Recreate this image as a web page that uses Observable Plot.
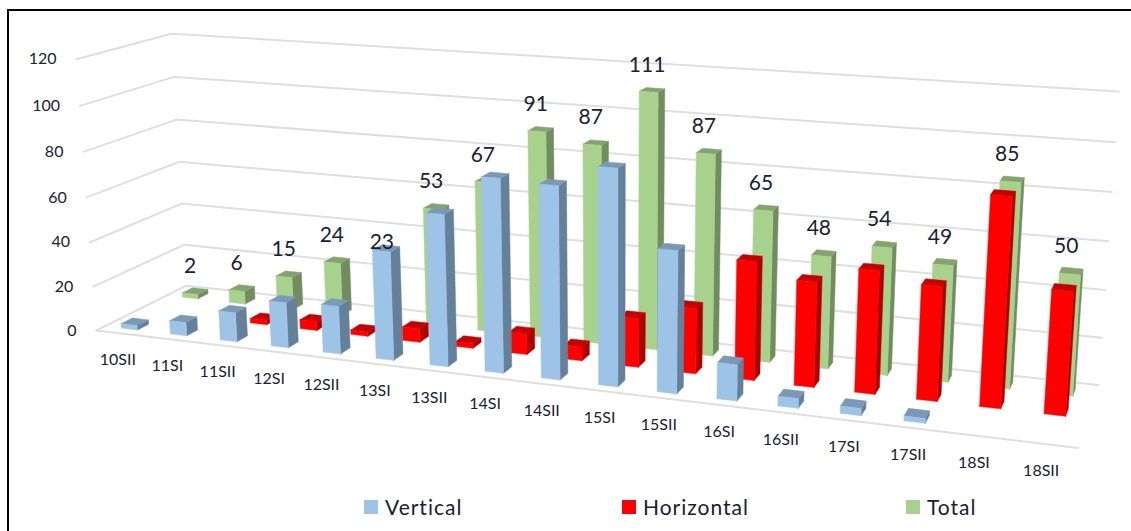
<!DOCTYPE html>
<html>
<head>
<meta charset="utf-8">
<script src="https://cdn.jsdelivr.net/npm/d3@7"></script>
<script src="https://cdn.jsdelivr.net/npm/@observablehq/plot@0.6"></script>
<style>
  html, body { margin: 0; padding: 0; background: #fff; }
  #frame { position: relative; width: 1131px; height: 531px; overflow: hidden; }
  #frame svg { position: absolute; left: 0; top: 0; }
  #border { position: absolute; left: 7px; top: 9px; width: 1160px; height: 560px; border: 2px solid #000; box-sizing: border-box; }
  .key { position: absolute; top: 495px; font: 21px Lato, sans-serif; letter-spacing: 1px; color: #1a2035; line-height: 24px; white-space: nowrap; }
  .key i { position: absolute; left: -21px; top: 5px; width: 14px; height: 14px; }
</style>
</head>
<body>
<div id="frame"><div id="border"></div></div>
<script>
const categories = ["10SII","11SI","11SII","12SI","12SII","13SI","13SII","14SI","14SII","15SI","15SII","16SI","16SII","17SI","17SII","18SI","18SII"];
const vertical   = [2, 6, 13, 20, 21, 47, 65, 82, 81, 90, 59, 15, 4, 3, 2, 0, 0];
const horizontal = [0, 0, 2, 4, 2, 6, 2, 9, 6, 21, 28, 50, 44, 51, 47, 85, 50];
const total      = [2, 6, 15, 24, 23, 53, 67, 91, 87, 111, 87, 65, 48, 54, 49, 85, 50];
const ticks = [0, 20, 40, 60, 80, 100, 120];

const palette = {
  Vertical:   {front: "#9dc3e6", side: "#64809b", top: "#7b98b6"},
  Horizontal: {front: "#ff0000", side: "#b00000", top: "#c40000"},
  Total:      {front: "#a9d18e", side: "#718d5f", top: "#85a371"}
};
const legendLeft = {Vertical: 385, Horizontal: 643, Total: 927};

const width = 1131, height = 531, valueMax = 120;

// Pin-hole camera fitted to the corners of the plot box: (category, depth, value) in 0..1 -> page position.
const boxCorners = [
  [0, 0, 0,   97, 330], [1, 0, 0, 1078, 447],
  [0, 1, 0,  185, 285], [1, 1, 0, 1098, 385],
  [0, 0, 1,   75,  59], [0, 1, 1,  172,  33], [1, 1, 1, 1118, 91]
];
function fitCamera(pts) {
  const rows = [], rhs = [];
  for (const [u, v, w, X, Y] of pts) {
    const x = X / 1000, y = Y / 1000;
    rows.push([u, v, w, 1, 0, 0, 0, 0, -x * u, -x * v, -x * w]); rhs.push(x);
    rows.push([0, 0, 0, 0, u, v, w, 1, -y * u, -y * v, -y * w]); rhs.push(y);
  }
  const n = 11;
  const A = d3.range(n).map(i => d3.range(n + 1).map(j =>
    d3.sum(rows, (r, k) => r[i] * (j < n ? r[j] : rhs[k]))));
  for (let i = 0; i < n; i++) {
    let p = i;
    for (let r = i + 1; r < n; r++) if (Math.abs(A[r][i]) > Math.abs(A[p][i])) p = r;
    [A[i], A[p]] = [A[p], A[i]];
    for (let r = 0; r < n; r++) if (r !== i) {
      const f = A[r][i] / A[i][i];
      for (let c = i; c <= n; c++) A[r][c] -= f * A[i][c];
    }
  }
  return A.map((r, i) => r[n] / r[i]);
}
const cam = fitCamera(boxCorners);
function project(u, v, value) {
  const w = value / valueMax;
  const d = cam[8] * u + cam[9] * v + cam[10] * w + 1;
  return {
    x: 1000 * (cam[0] * u + cam[1] * v + cam[2] * w + cam[3]) / d,
    y: 1000 * (cam[4] * u + cam[5] * v + cam[6] * w + cam[7]) / d
  };
}

// Depth slots of the three series and the bar footprint within a category slot.
const depthSlot = {Vertical: [0.09, 0.21], Horizontal: [0.44, 0.56], Total: [0.77, 0.89]};
const barShare = 0.33;
const slotLeft = i => (i + 0.5 - barShare / 2) / categories.length;
const slotRight = i => (i + 0.5 + barShare / 2) / categories.length;

const polygons = [];
let polyId = 0;
function addPolygon(corners, color) {
  const id = polyId++;
  for (const c of [...corners, corners[0]]) polygons.push({...project(...c), id, color});
}
// Far series first so nearer boxes paint over them.
for (const [name, values] of [["Total", total], ["Horizontal", horizontal], ["Vertical", vertical]]) {
  const [v0, v1] = depthSlot[name];
  const col = palette[name];
  values.forEach((value, i) => {
    if (value === 0) return;
    const u0 = slotLeft(i), u1 = slotRight(i);
    addPolygon([[u1, v0, 0], [u1, v1, 0], [u1, v1, value], [u1, v0, value]], col.side);
    addPolygon([[u0, v0, value], [u1, v0, value], [u1, v1, value], [u0, v1, value]], col.top);
    addPolygon([[u0, v0, 0], [u1, v0, 0], [u1, v0, value], [u0, v0, value]], col.front);
  });
}

// Grid: one bent line per tick along the side wall and the back wall, plus the front floor edge.
const grid = ticks.flatMap(t => [[0, 0], [0, 1], [1, 1]].map(([u, v]) => ({...project(u, v, t), t})));
const frontEdge = [project(0, 0, 0), project(1, 0, 0)];

const tickLabels = ticks.map(t => ({...project(0, 0, t), t}));
const categoryLabels = categories.map((c, i) => ({...project((i + 0.5) / categories.length, 0, 0), c}));
const [tv0, tv1] = depthSlot.Total;
const totalLabels = total.map((t, i) => ({...project((i + 0.5) / categories.length, (tv0 + tv1) / 2, t), t}));

const chart = Plot.plot({
  width, height,
  margin: 0,
  x: {domain: [0, width], range: [0, width], axis: null},
  y: {domain: [0, height], range: [0, height], axis: null},
  marks: [
    Plot.line(grid, {x: "x", y: "y", z: "t", stroke: "#dedede", strokeWidth: 2}),
    Plot.line(frontEdge, {x: "x", y: "y", stroke: "#dedede", strokeWidth: 2}),
    Plot.line(polygons, {x: "x", y: "y", z: "id", fill: "color", stroke: "color", strokeWidth: 0.5}),
    Plot.text(tickLabels, {x: "x", y: "y", text: "t", dx: -20, textAnchor: "end", fontSize: 16, fill: "#1a2035", fontFamily: "Lato"}),
    Plot.text(categoryLabels, {x: "x", y: "y", text: "c", dx: -3, dy: 27, fontSize: 16, fill: "#1a2035", fontFamily: "Lato"}),
    Plot.text(totalLabels, {x: "x", y: "y", text: "t", dx: -5, dy: -25, fontSize: 21, fill: "#1a2035", fontFamily: "Lato"})
  ]
});
const frame = document.getElementById("frame");
frame.prepend(chart);

// Series key along the bottom of the frame.
for (const name of Object.keys(palette)) {
  const key = document.createElement("div");
  key.className = "key";
  key.style.left = legendLeft[name] + "px";
  key.innerHTML = `<i style="background:${palette[name].front}"></i>${name}`;
  frame.append(key);
}
</script>
</body>
</html>
